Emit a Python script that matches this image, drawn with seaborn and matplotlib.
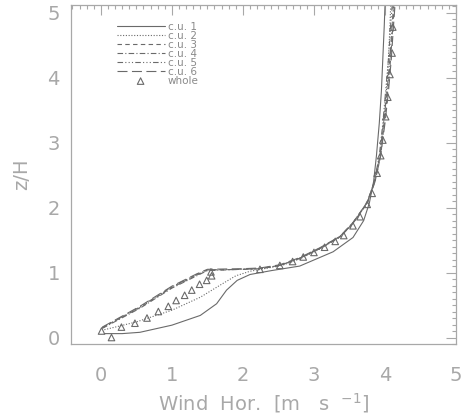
import numpy as np
import pandas as pd
import matplotlib
matplotlib.use("Agg")
import matplotlib.pyplot as plt
import seaborn as sns
from matplotlib.ticker import MultipleLocator

# ---- data ----
cu1_x = [0.05, 0.30, 0.55, 1.00, 1.40, 1.63, 1.77, 1.92, 2.10, 2.40, 2.80, 3.27, 3.55, 3.70, 3.78, 3.84, 3.88, 3.92, 3.95, 3.97, 3.99, 4.00]
cu1_z = [0.06, 0.06, 0.08, 0.19, 0.34, 0.52, 0.73, 0.88, 0.97, 1.03, 1.10, 1.32, 1.54, 1.80, 2.07, 2.40, 2.80, 3.30, 3.80, 4.30, 4.80, 5.10]

cu2_x = [0.05, 0.50, 1.00, 1.40, 1.70, 1.90, 2.10, 2.30, 2.55, 2.80, 3.08, 3.37, 3.55, 3.75, 3.85, 3.93, 3.98, 4.02, 4.05, 4.07, 4.08]
cu2_z = [0.12, 0.24, 0.42, 0.62, 0.82, 0.95, 1.02, 1.06, 1.11, 1.21, 1.36, 1.55, 1.76, 2.07, 2.40, 2.80, 3.30, 3.80, 4.30, 4.80, 5.10]

cu3_x = [0.02, 0.55, 1.00, 1.35, 1.50, 2.00, 2.24, 2.52, 2.80, 3.08, 3.37, 3.55, 3.75, 3.86, 3.94, 3.99, 4.04, 4.08, 4.11, 4.13]
cu3_z = [0.15, 0.46, 0.77, 0.96, 1.04, 1.05, 1.06, 1.11, 1.22, 1.37, 1.55, 1.76, 2.07, 2.40, 2.80, 3.30, 3.80, 4.30, 4.80, 5.10]

cu4_x = [0.02, 0.55, 1.00, 1.35, 1.50, 2.00, 2.24, 2.52, 2.80, 3.08, 3.37, 3.55, 3.75, 3.85, 3.93, 3.98, 4.03, 4.07, 4.10, 4.12]
cu4_z = [0.14, 0.45, 0.76, 0.95, 1.03, 1.05, 1.06, 1.11, 1.22, 1.37, 1.56, 1.77, 2.08, 2.40, 2.80, 3.30, 3.80, 4.30, 4.80, 5.10]

cu5_x = [0.02, 0.55, 1.00, 1.35, 1.50, 2.00, 2.24, 2.52, 2.80, 3.08, 3.37, 3.55, 3.75, 3.85, 3.92, 3.97, 4.01, 4.05, 4.08, 4.10]
cu5_z = [0.15, 0.47, 0.78, 0.97, 1.04, 1.05, 1.06, 1.11, 1.22, 1.37, 1.55, 1.76, 2.07, 2.40, 2.80, 3.30, 3.80, 4.30, 4.80, 5.10]

cu6_x = [0.02, 0.55, 1.00, 1.35, 1.50, 2.00, 2.24, 2.52, 2.80, 3.08, 3.37, 3.55, 3.75, 3.86, 3.94, 4.00, 4.05, 4.09, 4.12, 4.14]
cu6_z = [0.16, 0.48, 0.79, 0.98, 1.05, 1.06, 1.07, 1.12, 1.23, 1.38, 1.56, 1.77, 2.08, 2.40, 2.80, 3.30, 3.80, 4.30, 4.80, 5.10]

whole_x = [0.01, 0.15, 0.29, 0.48, 0.65, 0.81, 0.95, 1.06, 1.18, 1.28, 1.39, 1.49, 1.56, 1.55,
           2.24, 2.52, 2.70, 2.85, 3.00, 3.15, 3.30, 3.42, 3.55, 3.65, 3.75, 3.82, 3.89, 3.94,
           3.97, 4.01, 4.04, 4.07, 4.10, 4.11]
whole_z = [0.10, 0.00, 0.16, 0.22, 0.30, 0.40, 0.48, 0.57, 0.65, 0.73, 0.82, 0.88, 0.95, 1.01,
           1.05, 1.11, 1.17, 1.24, 1.31, 1.39, 1.48, 1.57, 1.72, 1.86, 2.05, 2.22, 2.53, 2.80,
           3.04, 3.40, 3.70, 4.05, 4.38, 4.78]

labels = ["c.u. 1", "c.u. 2", "c.u. 3", "c.u. 4", "c.u. 5", "c.u. 6"]
series_x = [cu1_x, cu2_x, cu3_x, cu4_x, cu5_x, cu6_x]
series_z = [cu1_z, cu2_z, cu3_z, cu4_z, cu5_z, cu6_z]

# ---- style ----
sns.set_style("white")
plt.rcParams["font.family"] = ["DejaVu Sans"]
txt = "#a8a8a8"
line_col = "#6a6a6a"
styles = ["-", (0, (1, 1.5)), (0, (4, 3)), (0, (5, 2, 1, 2)), (0, (5, 2, 1, 2, 1, 2, 1, 2)), (0, (9, 4))]

fig = plt.figure(figsize=(4.63, 4.19), dpi=100)
ax = fig.add_axes([71 / 463, 1 - 344 / 419, (456 - 71) / 463, (344 - 5) / 419])

for lab, xs, zs, ls in zip(labels, series_x, series_z, styles):
    df = pd.DataFrame({"x": xs, "z": zs})
    sns.lineplot(data=df, x="x", y="z", sort=False, estimator=None, ax=ax,
                 color=line_col, linewidth=0.8, linestyle=ls, label=lab)

dfw = pd.DataFrame({"x": whole_x, "z": whole_z})
sns.scatterplot(data=dfw, x="x", y="z", ax=ax, marker="^", s=22,
                facecolors="none", edgecolors=line_col, linewidths=0.8, label="whole")

ax.set_xlim(-0.42, 5.0)
ax.set_ylim(-0.1, 5.12)
ax.xaxis.set_major_locator(MultipleLocator(1))
ax.yaxis.set_major_locator(MultipleLocator(1))
ax.xaxis.set_minor_locator(MultipleLocator(0.1))
ax.yaxis.set_minor_locator(MultipleLocator(0.1))
ax.tick_params(which="both", direction="in", top=True, right=True, colors=txt,
               labelcolor=txt, labelsize=14, width=0.8)
ax.tick_params(which="major", length=7)
ax.tick_params(which="minor", length=3)
ax.tick_params(axis="x", which="major", pad=16)
ax.tick_params(axis="y", which="major", pad=8)
for sp in ax.spines.values():
    sp.set_color(txt)
    sp.set_linewidth(0.9)

ax.set_xlabel("Wind  Hor.  [m   s  $^{-1}$]", color=txt, fontsize=14, labelpad=4)
ax.set_ylabel("z/H", color=txt, fontsize=14, labelpad=12)

leg = ax.legend(loc="upper left", bbox_to_anchor=(0.105, 0.965), frameon=False, fontsize=7.5,
                handlelength=4.6, handletextpad=0.3, labelspacing=-0.1, borderpad=0.0,
                markerfirst=True)
for t in leg.get_texts():
    t.set_color("#8a8a8a")

fig.savefig("out.png", dpi=100)
